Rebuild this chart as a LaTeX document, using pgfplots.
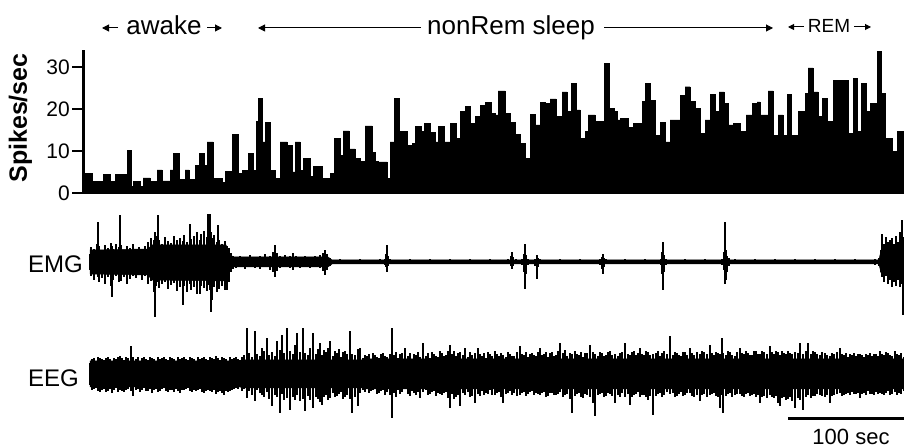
\documentclass[border=0pt]{standalone}
\usepackage{pgfplots}
\pgfplotsset{compat=1.18}
\usepackage{pgfplotstable}
\usepackage{fontspec}
\setmainfont{Liberation Sans}
\usetikzlibrary{arrows.meta}

% EMG: sampled excursions (px offsets from baseline)
\pgfplotstableread{
x up lo
90 8 -8
91 15 -14
94 13 -18
97 18 -12
98 40 -15
99 16 -20
102 12 -16
105 17 -22
108 14 -15
111 19 -24
112 16 -35
113 13 -18
116 18 -14
119 15 -20
120 47 -16
121 17 -19
124 12 -15
127 16 -22
130 14 -17
133 18 -14
136 11 -16
139 15 -13
142 13 -18
145 16 -14
148 20 -22
151 24 -19
154 22 -30
155 30 -55
156 26 -24
158 47 -20
159 22 -26
162 18 -22
165 25 -20
168 21 -27
171 19 -23
174 26 -21
177 22 -29
180 24 -25
183 21 -43
184 27 -24
187 20 -30
190 38 -22
191 23 -28
194 26 -25
197 30 -32
200 22 -32
201 28 -24
204 31 -26
207 25 -29
208 48 -23
210 48 -28
211 30 -50
212 24 -38
214 27 -25
217 20 -30
218 37 -22
219 22 -27
222 18 -24
225 21 -28
227 16 -28
229 14 -20
231 9 -10
233 6 -7
236 5 -6
240 6 -5
245 5 -7
250 7 -5
255 5 -6
260 6 -7
265 8 -5
270 6 -8
273 10 -10
275 17 -15
277 9 -9
280 6 -6
285 7 -5
290 6 -6
293 9 -8
296 6 -5
300 5 -6
305 6 -5
310 5 -6
315 6 -5
320 7 -6
323 9 -9
325 12 -13
327 8 -8
330 4 -4
340 2.5 -2
350 2 -2.5
360 2.5 -2
370 2 -2.5
380 2.5 -2
385 3 -3
386 8 -5
387 17 -10
388 6 -4
390 2.5 -2
400 2 -2.5
410 2.5 -2
420 2 -2.5
430 2.5 -2
440 2 -2.5
450 2.5 -2
460 2 -2.5
470 2.5 -2
480 2 -2.5
490 2.5 -2
500 2 -2.5
508 2.5 -2
511 6 -4
512 10 -7
513 5 -4
516 2.5 -2.5
522 3 -3
524 8 -10
525 18 -27
526 7 -12
528 3 -3
535 3 -4
537 7 -17
538 4 -5
540 2.5 -2
550 2 -2.5
560 2.5 -2
570 2 -2.5
580 2.5 -2
590 2 -2.5
600 3 -3
602 5 -7
603 8 -12
604 4 -5
606 2.5 -2
615 2 -2.5
625 2.5 -2
635 2 -2.5
645 2.5 -2
655 2 -2.5
661 3 -3
662 10 -12
663 20 -28
664 7 -10
666 3 -3
675 2 -2.5
685 2.5 -2
695 2 -2.5
705 2.5 -2
715 2 -2.5
722 3 -3
724 10 -8
725 40 -22
726 12 -18
727 6 -10
729 4 -4
735 2.5 -2
745 2 -2.5
755 2.5 -2
765 2 -2.5
775 2.5 -2
785 2 -2.5
795 2.5 -2
805 2 -2.5
815 2.5 -2
825 2 -2.5
835 2.5 -2
845 2 -2.5
855 2.5 -2
865 2 -2.5
875 3 -3
879 4 -4
881 12 -10
882 28 -15
884 18 -20
886 25 -14
888 20 -22
890 22 -18
892 24 -25
894 18 -20
896 26 -24
898 20 -18
900 30 -25
902 42 -22
903 25 -53
904 20 -30
}\emg

% EMG: solid core of the trace
\pgfplotstableread{
x up lo
90 12 -12
148 13 -13
152 17 -18
226 17 -19
230 8 -8
233 5 -5
328 5 -5
332 2 -2
879 2 -2
881 12 -11
904 16 -16
}\emgcore

% EEG: sampled excursions
\pgfplotstableread{
x up lo
90 10 -12
92 14 -17
94 15 -16
96 12 -15
98 16 -18
100 15 -19
102 14 -17
104 13 -16
106 15 -19
108 16 -18
110 14 -16
112 12 -20
114 15 -17
116 14 -15
118 16 -19
120 17 -17
122 15 -18
124 13 -19
126 16 -17
128 15 -16
131 27 -18
133 16 -23
136 14 -17
138 16 -16
140 12 -19
142 15 -17
144 16 -15
146 14 -18
148 13 -18
150 16 -16
152 15 -20
154 14 -17
156 12 -16
158 16 -19
160 14 -18
162 15 -16
164 16 -15
166 14 -18
168 13 -19
170 16 -17
172 15 -17
174 14 -19
176 12 -16
178 16 -18
180 14 -20
182 15 -17
184 16 -17
186 14 -16
188 13 -15
190 16 -18
192 15 -19
194 14 -17
196 12 -18
198 16 -17
200 14 -16
202 15 -19
204 16 -20
206 14 -18
208 13 -17
210 16 -18
212 15 -19
214 14 -17
216 17 -21
218 15 -19
220 13 -18
222 16 -20
224 15 -22
226 14 -18
228 12 -19
230 16 -18
232 14 -17
234 15 -16
236 16 -15
238 14 -16
240 13 -14
242 16 -18
244 18 -16
247 45 -25
249 20 -18
252 16 -22
255 42 -28
257 19 -17
260 17 -20
262 25 -22
264 22 -24
267 35 -19
269 18 -26
272 21 -33
275 17 -22
277 32 -24
280 23 -40
282 38 -21
284 20 -27
287 45 -25
290 22 -37
293 19 -24
295 28 -27
297 40 -22
300 21 -28
303 45 -26
305 20 -38
308 18 -23
310 25 -27
313 40 -35
316 19 -24
318 24 -26
320 30 -29
322 18 -32
324 23 -24
326 21 -22
328 25 -27
330 32 -25
333 17 -20
335 22 -24
337 20 -23
339 24 -21
341 16 -19
343 21 -26
345 22 -24
347 19 -22
350 42 -26
352 19 -40
355 18 -24
358 24 -33
360 25 -20
363 15 -17
365 18 -19
367 17 -15
369 19 -20
371 14 -18
373 20 -17
375 18 -16
377 16 -21
379 15 -20
381 19 -18
383 20 -17
385 17 -22
387 16 -19
390 19 -22
392 45 -45
394 18 -20
396 21 -24
398 15 -17
400 19 -21
402 20 -19
405 25 -16
408 17 -21
410 20 -23
412 14 -18
414 19 -20
416 18 -22
418 21 -19
420 16 -25
423 30 -19
426 17 -17
428 20 -22
430 15 -21
432 21 -19
434 19 -18
436 17 -23
438 16 -20
440 22 -21
442 20 -22
444 17 -20
446 18 -19
448 22 -25
450 28 -35
452 19 -21
454 22 -26
456 17 -24
458 20 -22
460 21 -33
463 18 -20
465 25 -22
468 16 -19
470 21 -24
472 18 -23
475 20 -30
478 25 -21
480 19 -23
482 17 -18
484 20 -22
486 15 -20
488 21 -21
490 19 -17
492 17 -22
495 22 -22
497 19 -20
499 17 -19
501 20 -24
503 18 -30
506 16 -21
508 21 -20
510 19 -18
512 17 -22
514 17 -20
517 21 -23
520 27 -22
522 19 -20
524 18 -19
526 21 -23
528 16 -21
530 19 -19
532 20 -18
534 18 -22
536 17 -20
538 21 -21
540 25 -22
542 18 -20
544 19 -19
546 21 -24
548 16 -23
550 20 -20
552 21 -20
554 17 -22
556 18 -22
558 22 -21
560 30 -19
563 20 -24
565 23 -22
567 17 -21
570 20 -26
572 19 -40
575 22 -23
577 19 -21
579 18 -20
581 21 -24
583 16 -25
585 20 -21
587 20 -22
590 28 -24
593 21 -30
595 19 -43
598 17 -22
600 21 -21
602 20 -20
604 17 -24
606 18 -23
608 21 -20
610 22 -21
612 18 -23
615 19 -30
618 17 -22
620 20 -24
622 21 -20
625 30 -24
628 19 -21
630 18 -32
632 21 -24
634 22 -22
636 18 -21
638 20 -19
640 25 -24
642 19 -22
644 18 -22
646 22 -24
648 21 -27
650 18 -23
653 19 -42
656 20 -23
658 22 -21
660 17 -20
662 20 -24
664 22 -22
667 19 -19
670 37 -21
673 18 -20
675 21 -24
677 20 -23
679 18 -21
681 17 -19
683 21 -23
685 21 -22
687 18 -20
690 25 -20
692 20 -23
694 18 -24
697 21 -22
700 19 -28
702 22 -22
704 21 -21
707 19 -24
710 28 -22
712 20 -21
714 18 -20
716 21 -23
718 20 -24
720 19 -35
722 35 -22
723 20 -40
726 18 -23
728 22 -21
730 21 -20
732 18 -24
735 17 -22
737 21 -21
740 25 -21
742 20 -23
744 19 -24
746 22 -21
748 20 -20
750 18 -23
752 18 -22
754 22 -21
756 22 -24
758 19 -22
760 19 -30
762 22 -24
764 21 -23
767 19 -25
770 27 -22
772 21 -24
774 19 -25
776 22 -23
778 21 -30
780 18 -33
782 22 -25
784 20 -24
786 19 -27
788 22 -26
790 20 -24
792 19 -28
795 21 -35
798 20 -25
800 30 -27
803 19 -37
806 22 -24
808 30 -22
811 19 -25
813 22 -23
815 21 -23
817 19 -21
820 18 -22
822 21 -23
825 20 -24
827 18 -22
830 17 -30
832 20 -23
834 19 -22
837 21 -21
840 25 -20
842 19 -23
844 18 -22
846 20 -21
848 16 -20
850 19 -22
852 18 -19
854 20 -21
856 17 -21
858 19 -20
860 19 -25
862 18 -21
864 16 -20
866 19 -22
868 18 -18
870 20 -21
872 17 -21
874 19 -22
876 19 -19
878 17 -21
880 22 -20
882 19 -21
884 18 -22
886 21 -20
888 20 -18
890 18 -22
892 17 -21
895 22 -19
897 19 -22
899 18 -20
901 20 -21
904 16 -18
}\eeg

% EEG: solid core of the trace
\pgfplotstableread{
x up lo
90 12 -14
240 12 -14
244 13 -15
363 13 -15
367 14 -16
904 14 -16
}\eegcore

\begin{document}
\begin{tikzpicture}
\useasboundingbox (0,0) rectangle (904pt,447pt);

% spike-rate histogram
\begin{axis}[
  at={(83pt,254pt)}, anchor=south west,
  scale only axis, width=821pt, height=142.8pt,
  xmin=83, xmax=904, ymin=0, ymax=34,
  axis x line=bottom, axis y line=left,
  axis line style={-},
  x axis line style={line width=0.8pt, black!60},
  y axis line style={line width=3pt},
  xtick=\empty, ytick={0,10,20,30},
  tick align=outside, major tick length=11pt,
  ytick style={line width=2.5pt, black},
  yticklabel style={font=\fontsize{21}{21}\selectfont, inner sep=2pt},
  /pgf/number format/assume math mode=true,
  clip=false,
]
\addplot[const plot, fill=black, draw=black, line width=0.4pt] coordinates {
(83,4.7)(92,2.7)(103,4.5)(110,2.7)(115,4.5)(127,10.2)(131,1.5)(133,2.7)(140,1.5)
(143,3.6)(150,2.7)(157,5.5)(162,2.9)(170,5.5)(173,9.4)(179,3.2)(185,5.5)(189,3.2)
(195,6.5)(199,9.4)(204,6.5)(207,12.2)(213,3.5)(222,2.5)(225,5.2)(232,14)(238,4.6)
(242,5.4)(248,9.4)(253,5.4)(256,17)(258,22.5)(262,12.2)(265,16.8)(270,5.4)(275,3.5)
(280,12.2)(287,11.3)(292,5)(295,12.2)(300,5.4)(303,8.3)(310,3.9)(313,6.3)(322,3.5)
(330,4.6)(334,13)(340,9)(343,14.8)(349,10.5)(355,8.3)(360,7.5)(365,16)(372,9.7)
(375,7.5)(378,7.4)(387,3.5)(390,12.2)(394,22.5)(399,14.6)(407,11.4)(412,11.8)
(415,15.8)(421,14.6)(424,16.6)(430,14.4)(435,12.2)(438,15.8)(444,12.2)(450,16.6)
(456,13)(460,19.4)(465,20.6)(470,16.5)(475,18.2)(480,20.8)(485,21.5)(491,19)
(495,18.6)(498,24.3)(505,19)(510,16.8)(515,14)(520,11.8)(525,8.3)(530,18.7)
(535,16.2)(540,21.6)(545,21.4)(550,22.4)(556,18.2)(562,24.1)(567,19.4)(571,26.1)
(576,19.8)(580,13)(585,14.6)(588,18.6)(595,17)(604,30.9)(609,20.2)(614,19.5)
(617,17.4)(620,17.8)(628,15.6)(633,16.6)(642,21.8)(645,26.1)(650,22.1)(655,13.8)
(660,16.8)(665,12.2)(670,17.4)(680,23.3)(685,25.3)(690,21.8)(695,20.2)(700,14.2)
(705,17.4)(710,23.5)(715,19.4)(719,24.1)(724,21.4)(728,16.2)(733,16.6)(740,14.6)
(746,18.6)(752,21.4)(757,21.7)(760,18.6)(768,24.3)(773,13.8)(778,18.6)(783,13.8)
(787,23.5)(791,13.8)(798,19.4)(805,23.7)(808,29.8)(813,24.1)(818,18.2)(822,22.5)
(827,17)(833,26.9)(848,14.2)(853,27.3)(857,14.6)(861,26.1)(866,19.4)(870,21.4)
(877,33.7)(881,23.7)(885,13)(892,9.9)(897,14.7)(904,14.7)
} \closedcycle;
\end{axis}

% EMG
\begin{axis}[
  at={(83pt,135pt)}, anchor=south west,
  scale only axis, width=821pt, height=100pt,
  xmin=83, xmax=904, ymin=-50, ymax=50,
  hide axis, clip=false,
]
\addplot[fill=black, draw=black, line width=0.5pt] table[x=x, y=up] {\emgcore} \closedcycle;
\addplot[fill=black, draw=black, line width=0.5pt] table[x=x, y=lo] {\emgcore} \closedcycle;
\addplot[ycomb, black, line width=1.3pt] table[x=x, y=up] {\emg};
\addplot[ycomb, black, line width=1.3pt] table[x=x, y=lo] {\emg};
\end{axis}

% EEG
\begin{axis}[
  at={(83pt,24pt)}, anchor=south west,
  scale only axis, width=821pt, height=100pt,
  xmin=83, xmax=904, ymin=-50, ymax=50,
  hide axis, clip=false,
]
\addplot[fill=black, draw=black, line width=0.5pt] table[x=x, y=up] {\eegcore} \closedcycle;
\addplot[fill=black, draw=black, line width=0.5pt] table[x=x, y=lo] {\eegcore} \closedcycle;
\addplot[ycomb, black, line width=1.2pt] table[x=x, y=up] {\eeg};
\addplot[ycomb, black, line width=1.2pt] table[x=x, y=lo] {\eeg};
% scale bar: 100 sec
\addplot[line width=3pt, black] coordinates {(788,-45)(904,-45)};
\node[anchor=base, inner sep=0pt, font=\fontsize{22}{22}\selectfont] at (axis cs:851,-71) {100 sec};
\end{axis}

% labels
\node[rotate=90, anchor=base, inner sep=0pt, font=\fontsize{25}{25}\selectfont\bfseries] at (27pt,329pt) {Spikes/sec};
\node[anchor=base west, inner sep=0pt, font=\fontsize{24}{24}\selectfont] at (28pt,174pt) {EMG};
\node[anchor=base west, inner sep=0pt, font=\fontsize{24}{24}\selectfont] at (28pt,60pt) {EEG};

% state annotations
\begin{scope}[line width=1pt, arrows={-Triangle[width=7pt,length=7pt]}]
\draw (118pt,419pt) -- (102pt,419pt);
\draw (207pt,419pt) -- (222pt,419pt);
\draw (421pt,419pt) -- (258pt,419pt);
\draw (604pt,419pt) -- (773pt,419pt);
\draw[arrows={-Triangle[width=6pt,length=6pt]}] (804pt,420pt) -- (788pt,420pt);
\draw[arrows={-Triangle[width=6pt,length=6pt]}] (854pt,420pt) -- (871pt,420pt);
\end{scope}
\node[anchor=base, inner sep=0pt, font=\fontsize{26}{26}\selectfont] at (164pt,412pt) {awake};
\node[anchor=base, inner sep=0pt, font=\fontsize{26}{26}\selectfont] at (511pt,412pt) {nonRem sleep};
\node[anchor=base, inner sep=0pt, font=\fontsize{19}{19}\selectfont] at (829pt,414pt) {REM};
\end{tikzpicture}
\end{document}
